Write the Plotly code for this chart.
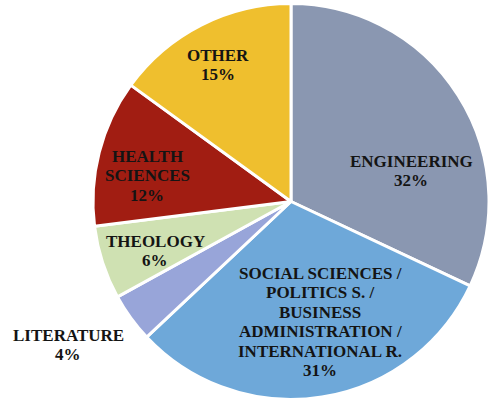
import plotly.graph_objects as go

labels = ["ENGINEERING", "SOCIAL SCIENCES / POLITICS S. / BUSINESS ADMINISTRATION / INTERNATIONAL R.",
          "LITERATURE", "THEOLOGY", "HEALTH SCIENCES", "OTHER"]
values = [32, 31, 4, 6, 12, 15]
colors = ["#8a97b1", "#6ea8d9", "#98a5d9", "#cfe1b2", "#a11d12", "#efbf2e"]
label_lines = [["ENGINEERING", "32%"],
               ["SOCIAL SCIENCES /", "POLITICS S. /", "BUSINESS", "ADMINISTRATION /", "INTERNATIONAL R.", "31%"],
               ["LITERATURE", "4%"], ["THEOLOGY", "6%"], ["HEALTH", "SCIENCES", "12%"], ["OTHER", "15%"]]
label_pos = [(411, 161), (320, 273), (68, 335), (155, 241), (147, 156), (218, 55)]
line_step = 19.5

W, H = 489, 403

fig = go.Figure(go.Pie(
    labels=labels, values=values, sort=False, direction="clockwise", rotation=0,
    marker=dict(colors=colors, line=dict(color="white", width=3)),
    textinfo="none", hoverinfo="label+percent",
    domain=dict(x=[93 / W, 1], y=[0, 1]),
))

for lines, (px, py) in zip(label_lines, label_pos):
    for i, line in enumerate(lines):
        fig.add_annotation(x=px / W, y=1 - (py + i * line_step) / H, xref="paper", yref="paper",
                           text="<b>" + line + "</b>", showarrow=False,
                           xanchor="center", yanchor="middle",
                           font=dict(family="Liberation Serif", size=17, color="#141414"))

fig.update_layout(width=W, height=H, margin=dict(l=0, r=0, t=0, b=0),
                  showlegend=False, paper_bgcolor="white",
                  font=dict(family="Liberation Serif"))

fig.write_html("out.html", config={"displayModeBar": False},
               post_script="document.body.style.margin='0';")
